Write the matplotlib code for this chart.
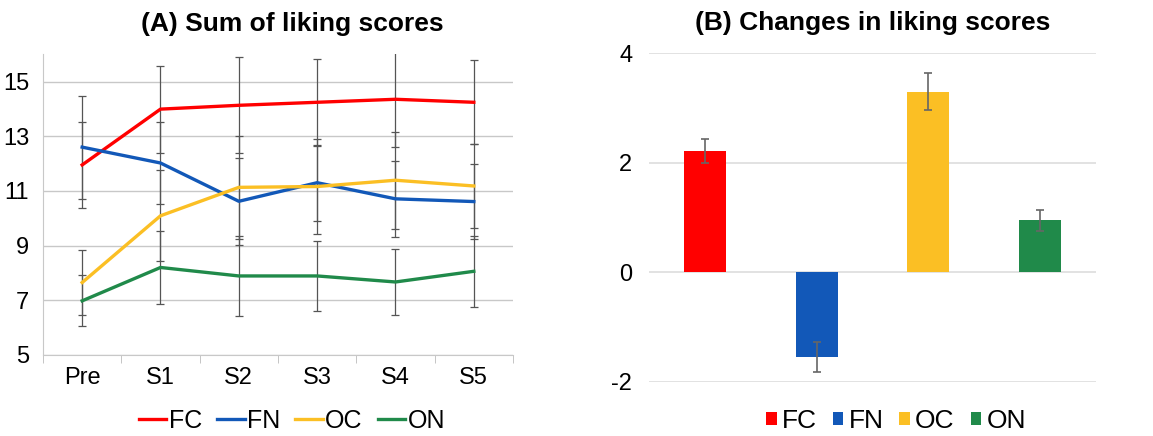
import matplotlib.pyplot as plt
import numpy as np

plt.rcParams['font.family'] = ['Liberation Sans', 'DejaVu Sans']
plt.rcParams['axes.unicode_minus'] = False

# data
sessions = ['Pre', 'S1', 'S2', 'S3', 'S4', 'S5']
groups = ['FC', 'FN', 'OC', 'ON']
colors = ['#ff0000', '#1258b8', '#fbbf24', '#208a4a']

fc_mean = [11.95, 13.99, 14.13, 14.24, 14.35, 14.24]
fn_mean = [12.60, 12.02, 10.62, 11.30, 10.71, 10.61]
oc_mean = [7.65, 10.09, 11.13, 11.16, 11.39, 11.18]
on_mean = [6.98, 8.20, 7.89, 7.89, 7.67, 8.06]

fc_err = [1.58, 1.59, 1.76, 1.59, 1.76, 1.54]
fn_err = [1.88, 1.50, 1.59, 1.39, 1.38, 1.37]
oc_err = [1.20, 1.67, 1.89, 1.74, 1.78, 1.55]
on_err = [0.93, 1.32, 1.45, 1.28, 1.21, 1.30]

change_mean = [2.22, -1.55, 3.30, 0.95]
change_err = [0.22, 0.28, 0.34, 0.19]

fig = plt.figure(figsize=(11.53, 4.36), dpi=100)

# (A) line chart
ax1 = fig.add_axes([0.0373, 0.1858, 0.4076, 0.690])
x = np.arange(len(sessions))
means = [fc_mean, fn_mean, oc_mean, on_mean]
errs = [fc_err, fn_err, oc_err, on_err]
for m, e in zip(means, errs):
    ax1.errorbar(x, m, yerr=e, fmt='none', ecolor='#555555', elinewidth=0.9,
                 capsize=3, capthick=0.9, zorder=2)
for m, g, c in zip(means, groups, colors):
    ax1.plot(x, m, color=c, lw=2.4, label=g, zorder=3)

ax1.set_xlim(-0.5, 5.5)
ax1.set_ylim(5, 16)
ax1.set_yticks([5, 7, 9, 11, 13, 15])
ax1.set_xticks(x)
ax1.set_xticklabels(sessions)
ax1.set_xticks(np.arange(-0.5, 6, 1), minor=True)
ax1.tick_params(axis='x', which='major', length=0, pad=9, labelsize=17)
ax1.tick_params(axis='x', which='minor', length=6, color='#bbbbbb')
ax1.tick_params(axis='y', length=0, pad=10, labelsize=17)
ax1.grid(axis='y', color='#c8c8c8', lw=1, zorder=0)
for s in ['top', 'right']:
    ax1.spines[s].set_visible(False)
ax1.spines['left'].set_color('#c8c8c8')
ax1.spines['bottom'].set_color('#c8c8c8')
ax1.set_title('(A) Sum of liking scores', fontsize=19, fontweight='bold', pad=17, x=0.53)
h1, l1 = ax1.get_legend_handles_labels()
fig.legend(h1, l1, loc='center', bbox_to_anchor=(292 / 1153, 0.034), ncol=4,
           frameon=False, fontsize=18, handlelength=1.1, handletextpad=0.1,
           columnspacing=0.6, borderpad=0)

# (B) bar chart
ax2 = fig.add_axes([0.5629, 0.1245, 0.3877, 0.7532])
xb = np.arange(len(groups))
ax2.bar(xb, change_mean, width=0.375, color=colors, label=groups, zorder=2)
ax2.errorbar(xb, change_mean, yerr=change_err, fmt='none', ecolor='#666666',
             elinewidth=1.2, capsize=3, capthick=1.2, zorder=3)
ax2.set_xlim(-0.5, 3.5)
ax2.set_ylim(-2, 4)
ax2.set_yticks([-2, 0, 2, 4])
ax2.set_xticks([])
ax2.tick_params(axis='y', length=0, pad=12, labelsize=17)
ax2.grid(axis='y', color='#dddddd', lw=1.2, zorder=0)
for s in ax2.spines.values():
    s.set_visible(False)
ax2.set_title('(B) Changes in liking scores', fontsize=19, fontweight='bold', pad=17)
h2, l2 = ax2.get_legend_handles_labels()
fig.legend(h2, l2, loc='center', bbox_to_anchor=(896 / 1153, 0.034), ncol=4,
           frameon=False, fontsize=19, handlelength=0.4, handleheight=0.4,
           handletextpad=0.2, columnspacing=0.6, borderpad=0)

fig.savefig('out.png', dpi=100)
